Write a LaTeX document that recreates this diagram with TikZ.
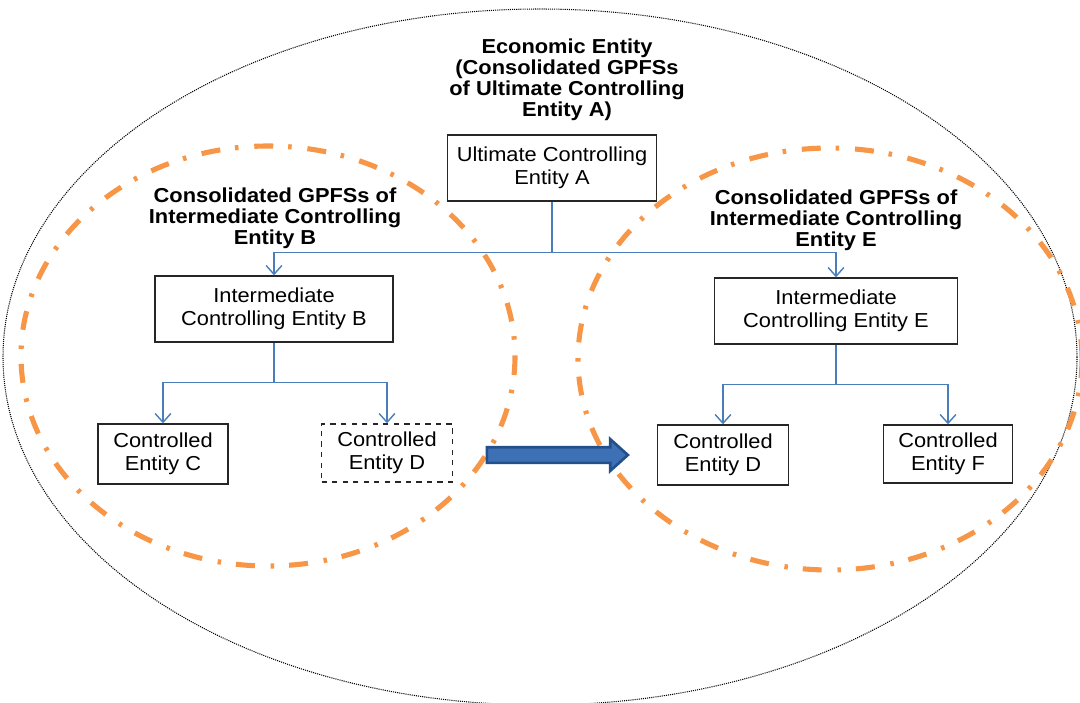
\documentclass[tikz,border=0pt]{standalone}
\usepackage{fontspec}
\setmainfont{Liberation Sans}[FakeStretch=1.08]
\usetikzlibrary{arrows.meta,shapes.arrows}

\definecolor{linkblue}{HTML}{4A7EBB}
\definecolor{grouporange}{HTML}{F79646}
\definecolor{movefill}{HTML}{3E70B5}
\definecolor{moveline}{HTML}{22508C}

\begin{document}
\begin{tikzpicture}[x=0.2mm,y=-0.2mm,
  font=\fontsize{11.5}{13}\selectfont,
  box/.style={draw=black!85,fill=white,line width=0.8pt,align=center,inner sep=0pt},
  heading/.style={font=\fontsize{11.5}{12}\selectfont\bfseries,align=center},
  link/.style={draw=linkblue,line width=0.8pt,-{Straight Barb[length=5pt,width=9pt]}},
  group/.style={draw=grouporange,line width=2.9pt,dash pattern=on 10.8pt off 8.5pt on 2pt off 9pt},
  whole/.style={draw=black,line width=0.6pt,dash pattern=on 0.6pt off 0.6pt},
  movearrow/.style={single arrow,draw=moveline,fill=movefill,line width=1.5pt,inner sep=0pt,
    text height=2.6mm,text depth=0pt,text width=0pt,
    minimum height=28.2mm,single arrow head extend=1.6mm,single arrow tip angle=84}]
\useasboundingbox (0,0) rectangle (1080,702);

% entity groups
\draw[whole] (540,357) ellipse [x radius=537,y radius=348];
\draw[group] (268,356) ellipse [x radius=247,y radius=210];
\draw[group] (830,359) ellipse [x radius=252,y radius=211];

% headings
\node[heading] (title) at (567,80) {Economic Entity\\(Consolidated GPFSs\\of Ultimate Controlling\\Entity A)};
\node[heading] (headB) at (275,218) {Consolidated GPFSs of\\Intermediate Controlling\\Entity B};
\node[heading] (headE) at (836,220) {Consolidated GPFSs of\\Intermediate Controlling\\Entity E};

% entities
\node[box,minimum width=41.8mm,minimum height=13.2mm] (A) at (552,168) {Ultimate Controlling\\Entity A};
\node[box,minimum width=47.6mm,minimum height=13.2mm] (B) at (274,309) {Intermediate\\Controlling Entity B};
\node[box,minimum width=48.6mm,minimum height=13.2mm] (E) at (836,311) {Intermediate\\Controlling Entity E};
\node[box,minimum width=26mm,minimum height=12mm] (C) at (163,454) {Controlled\\Entity C};
\node[box,dashed,minimum width=26.2mm,minimum height=11.6mm] (Dl) at (387,453) {Controlled\\Entity D};
\node[box,minimum width=26.2mm,minimum height=12mm] (Dr) at (723,455) {Controlled\\Entity D};
\node[box,minimum width=25.8mm,minimum height=11.6mm] (F) at (948,454) {Controlled\\Entity F};

% control links
\draw[link] (A.south) -- ++(0,51) coordinate (busA) -| (B.north);
\draw[link] (busA) -| (E.north);
\draw[link] (B.south) -- ++(0,40) coordinate (busB) -| (C.north);
\draw[link] (busB) -| (Dl.north);
\draw[link] (E.south) -- ++(0,40) coordinate (busE) -| (Dr.north);
\draw[link] (busE) -| (F.north);

% transfer of D
\node[movearrow] (move) at (553,455) {};
\end{tikzpicture}
\end{document}
